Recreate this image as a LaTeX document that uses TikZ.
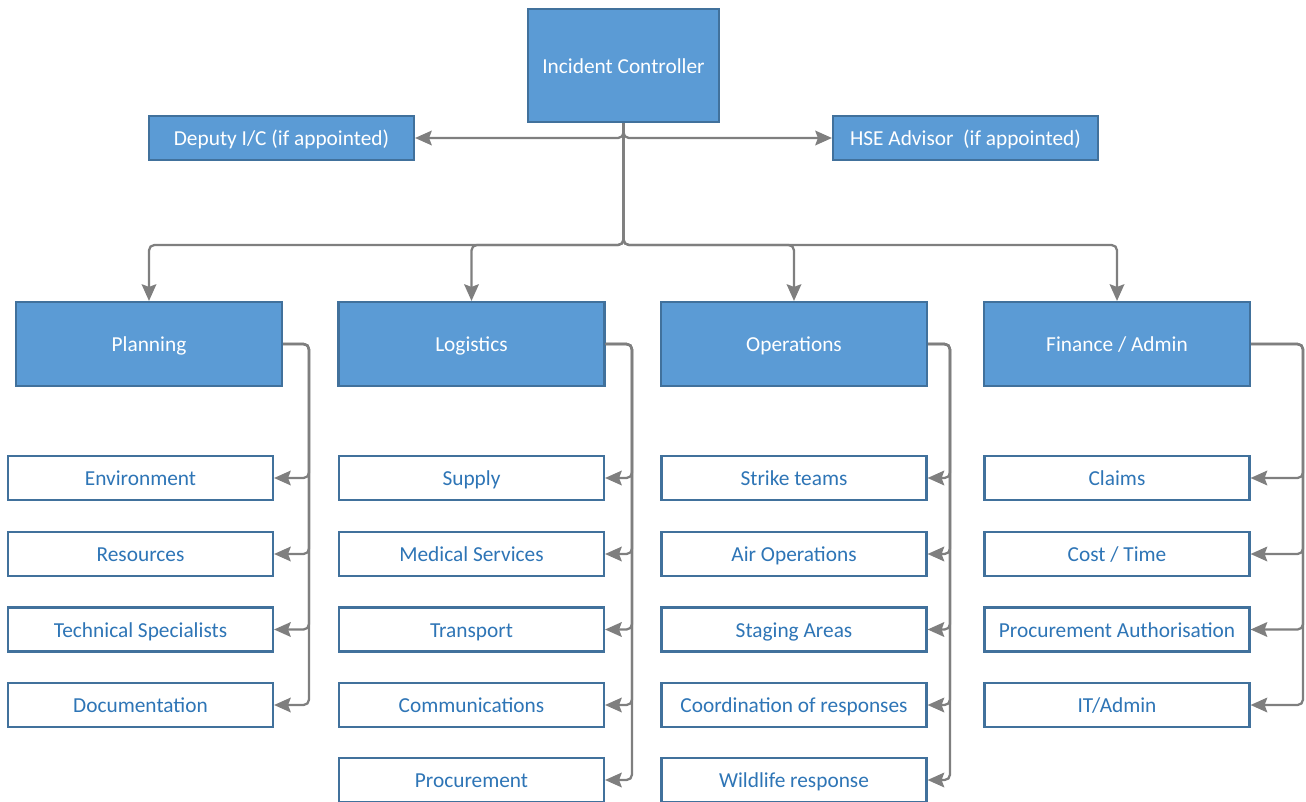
\documentclass[tikz,border=0pt]{standalone}
\usepackage{fontspec}
\setmainfont{Carlito}
\usetikzlibrary{arrows.meta}
\definecolor{boxfill}{HTML}{5B9BD5}
\definecolor{boxline}{HTML}{41719C}
\definecolor{subtext}{HTML}{2E75B6}
\definecolor{conncol}{HTML}{7F7F7F}
\tikzset{
  mainbox/.style={draw=boxline, line width=1.6pt, fill=boxfill, text=white, inner sep=0pt,
    font=\fontsize{16}{18}\selectfont, text height=14pt, text depth=2.5pt},
  deptbox/.style={mainbox, minimum width=199.5pt, minimum height=63pt},
  subbox/.style={draw=boxline, line width=1.6pt, fill=white, text=subtext, inner sep=0pt,
    minimum width=198.75pt, minimum height=33pt, font=\fontsize{16}{18}\selectfont,
    text height=14pt, text depth=2.5pt},
  conn/.style={draw=conncol, line width=1.7pt, rounded corners=4pt,
    -{Stealth[length=12.5pt,width=11pt,inset=2pt]}},
}
\begin{document}
\begin{tikzpicture}[x=0.75pt,y=-0.75pt]
\useasboundingbox (0,0) rectangle (1306,802);
% top
\node[mainbox, minimum width=143.25pt, minimum height=84.75pt] (ic) at (623.5,65.5) {Incident Controller};
\node[mainbox, minimum width=198.75pt, minimum height=33pt] (dep) at (281.5,138) {Deputy I/C (if appointed)};
\node[mainbox, minimum width=198.75pt, minimum height=33pt] (hse) at (965.5,138) {HSE Advisor\ \ (if appointed)};
% departments
\node[deptbox] (plan) at (149,344) {Planning};
\node[deptbox] (log) at (471.5,344) {Logistics};
\node[deptbox] (ops) at (794,344) {Operations};
\node[deptbox] (fin) at (1117,344) {Finance / Admin};
% planning subs
\node[subbox] (p1) at (140.5,478) {Environment};
\node[subbox] (p2) at (140.5,554) {Resources};
\node[subbox] (p3) at (140.5,629.5) {Technical Specialists};
\node[subbox] (p4) at (140.5,705) {Documentation};
% logistics subs
\node[subbox] (l1) at (471.5,478) {Supply};
\node[subbox] (l2) at (471.5,554) {Medical Services};
\node[subbox] (l3) at (471.5,629.5) {Transport};
\node[subbox] (l4) at (471.5,705) {Communications};
\node[subbox] (l5) at (471.5,780) {Procurement};
% operations subs
\node[subbox] (o1) at (794,478) {Strike teams};
\node[subbox] (o2) at (794,554) {Air Operations};
\node[subbox] (o3) at (794,629.5) {Staging Areas};
\node[subbox] (o4) at (794,705) {Coordination of responses};
\node[subbox] (o5) at (794,780) {Wildlife response};
% finance subs
\node[subbox] (f1) at (1117,478) {Claims};
\node[subbox] (f2) at (1117,554) {Cost / Time};
\node[subbox] (f3) at (1117,629.5) {Procurement Authorisation};
\node[subbox] (f4) at (1117,705) {IT/Admin};
% rails
\coordinate (bus) at (623.5,245);
\coordinate (pr) at (309,0);
\coordinate (lr) at (632,0);
\coordinate (orr) at (950,0);
\coordinate (fr) at (1303,0);
% top connectors
\draw[conn] (ic.south) |- (dep.east);
\draw[conn] (ic.south) |- (hse.west);
\foreach \d in {plan,log,ops,fin}{
  \draw[conn] (ic.south) |- (\d.north |- bus) -- (\d.north);
}
% sub connectors
\foreach \s in {p1,p2,p3,p4}{ \draw[conn] (plan.east) -- (plan.east -| pr) |- (\s.east); }
\foreach \s in {l1,l2,l3,l4,l5}{ \draw[conn] (log.east) -- (log.east -| lr) |- (\s.east); }
\foreach \s in {o1,o2,o3,o4,o5}{ \draw[conn] (ops.east) -- (ops.east -| orr) |- (\s.east); }
\foreach \s in {f1,f2,f3,f4}{ \draw[conn] (fin.east) -- (fin.east -| fr) |- (\s.east); }
\end{tikzpicture}
\end{document}
